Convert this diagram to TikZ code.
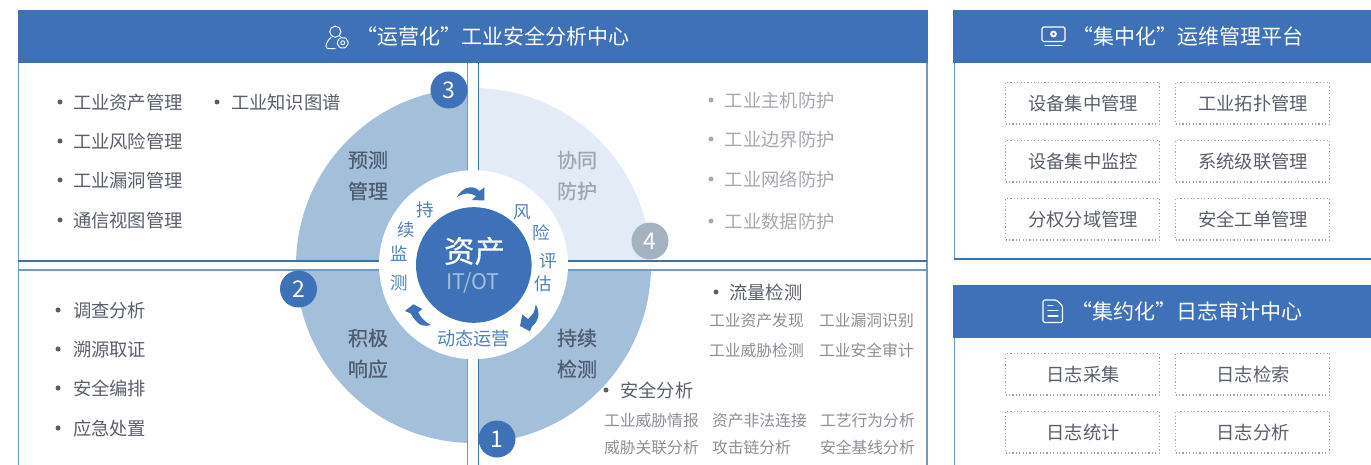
\documentclass[tikz,border=0pt]{standalone}
\usepackage{fontspec}
\setmainfont{Noto Sans CJK SC}
\definecolor{hdr}{HTML}{3E71B7}
\definecolor{edge}{HTML}{3A74AE}
\definecolor{edgel}{HTML}{6C9DC8}
\definecolor{quad}{HTML}{A3BFDA}
\definecolor{quadl}{HTML}{E3ECF6}
\definecolor{txt}{HTML}{5A5E6B}
\definecolor{txts}{HTML}{8B8E97}
\definecolor{txtl}{HTML}{A5A8AF}
\definecolor{lab}{HTML}{4F5B70}
\definecolor{labl}{HTML}{A0A5B0}
\definecolor{ring}{HTML}{4F81BC}
\definecolor{dot}{HTML}{98A3B2}
\definecolor{badgeg}{HTML}{A5B3C0}
\tikzset{
 x=1pt,y=-1pt,inner sep=0pt,outer sep=0pt,
 hdrbar/.style={fill=hdr,draw=none},
 hdrtext/.style={text=white,font=\fontsize{21}{22}\selectfont,anchor=center},
 item/.style={text=txt,font=\fontsize{18.3}{20}\selectfont,anchor=west},
 iteml/.style={text=txtl,font=\fontsize{18.3}{20}\selectfont,anchor=west},
 sub/.style={text=txts,font=\fontsize{15.8}{18}\selectfont,anchor=west},
 bul/.style={circle,fill=#1,minimum size=5pt},
 badge/.style={circle,fill=#1,minimum size=37pt,text=white,font=\fontsize{23}{24}\selectfont},
 quadlab/.style={text=#1,font=\fontsize{20}{22}\selectfont\addfontfeature{FakeBold=0.6},anchor=center},
 ringch/.style={text=ring,font=\fontsize{17.5}{18}\selectfont,anchor=center},
 dbox/.style={draw=dot,line width=1.2pt,dash pattern=on 1.2pt off 2.2pt,minimum width=154pt,minimum height=41.5pt,text=txt,font=\fontsize{18.3}{20}\selectfont,anchor=north west},
 pline/.style={draw=edge,line width=1.1pt},
 plinel/.style={draw=edgel,line width=1.2pt},
 icon/.style={draw=white,line width=1pt,line join=round,line cap=round},
}
\begin{document}
\begin{tikzpicture}
\useasboundingbox (0,0) rectangle (1371,465);
% quadrants
\begin{scope}\clip (0,62) rectangle (467.5,261);
\fill[quad] (473.5,265.5) circle[radius=177.5pt];\end{scope}
\begin{scope}\clip (0,270) rectangle (467.5,465);
\fill[quad] (473.5,265.5) circle[radius=177.5pt];\end{scope}
\begin{scope}\clip (478.5,270) rectangle (927,465);
\fill[quad] (473.5,265.5) circle[radius=177.5pt];\end{scope}
\begin{scope}\clip (478.5,62) rectangle (927,261);
\fill[quadl] (473.5,265.5) circle[radius=177.5pt];\end{scope}
% panel lines
\draw[plinel] (18.7,62) -- (18.7,465);
\draw[plinel] (927,62) -- (927,465);
\draw[pline] (18,261) -- (927,261);
\draw[plinel] (18,270) -- (927,270);
\draw[plinel] (467.8,62) -- (467.8,465);
\draw[pline] (478.3,62) -- (478.3,465);
\draw[plinel] (954.5,62) -- (954.5,259);
\draw[pline] (954,259) -- (1371,259);
\draw[plinel] (954.5,338) -- (954.5,465);
% headers
\fill[hdrbar] (18,10) rectangle (927.5,62);
\fill[hdrbar] (953,10) rectangle (1371,63);
\fill[hdrbar] (953,285) rectangle (1371,338);
\draw[edge,line width=1pt] (18,62.3) -- (927.5,62.3) (953,62.8) -- (1371,62.8) (953,337.5) -- (1371,337.5);
\node[hdrtext] (h1) at (492.5,36.5) {“运营化”工业安全分析中心};
\node[hdrtext] (h2) at (1187.5,36.5) {“集中化”运维管理平台};
\node[hdrtext] (h3) at (1187,311.5) {“集约化”日志审计中心};
% icon: person + gear
\draw[icon] (335.3,31.7) circle[radius=5.6pt];
\draw[icon] (331,37.5) .. controls (328,40) and (325.5,44) .. (326,47) .. controls (326.5,49) and (332,49) .. (335,48.5);
\draw[icon] (340,36.5) -- (341.5,37.5);
\draw[icon,rounded corners=1pt] (339.8,37.8) -- (345.6,37.8) -- (348.5,42.8) -- (345.6,47.8) -- (339.8,47.8) -- (336.9,42.8) -- cycle;
\draw[icon,line width=.9pt] (342.7,42.8) circle[radius=2pt];
% icon: monitor
\draw[icon,line width=1.2pt,rounded corners=1.5pt] (1042,27) rectangle (1065,41.5);
\draw[icon,line width=1.2pt] (1045,45.5) -- (1062,45.5);
\fill[white] (1053.5,34) circle[radius=3.4pt];
\fill[hdr] (1053.5,34) circle[radius=1.3pt];
% icon: document
\draw[icon,line width=1.2pt,rounded corners=1.5pt] (1043,300) -- (1043,322.5) -- (1062.5,322.5) -- (1062.5,306) -- (1056.5,300) -- cycle;
\draw[icon,line width=1.2pt] (1048,310.5) -- (1058,310.5) (1048,316) -- (1058,316) (1048,305.5) -- (1053,305.5);
% white ring and core
\fill[white] (473.5,264.7) circle[radius=94.5pt];
\fill[hdr] (473.8,265) circle[radius=57.8pt];
\node[text=white,font=\fontsize{30.5}{32}\selectfont\addfontfeature{FakeBold=0.4}] (core) at (474.5,251) {资产};
\node[text=quad,font=\fontsize{21.5}{24}\selectfont] (coreb) at (473,282.5) {IT/OT};
% ring text
\node[ringch] (r1) at (425,210) {持};
\node[ringch] (r2) at (406.5,230) {续};
\node[ringch] (r3) at (399,254) {监};
\node[ringch] (r4) at (399,283) {测};
\node[ringch] (r5) at (522,212) {风};
\node[ringch] (r6) at (541,233) {险};
\node[ringch] (r7) at (548,261) {评};
\node[ringch] (r8) at (543,284) {估};
\node[ringch,font=\fontsize{18.2}{18}\selectfont] (r9) at (473.5,338.5) {动态运营};
% ring arrows
\fill[hdr] (456.7,197.3) .. controls (461,189) and (472,183) .. (479.3,191) -- (484.3,187.5) -- (484.3,200.5) -- (472,200) -- (476,196) .. controls (470,192) and (463,193) .. (456.7,197.3) -- cycle;
\fill[hdr] (535.7,304.7) .. controls (535,311) and (533,315) .. (528,319) -- (522.3,314.5) -- (520,326) -- (530,331.3) -- (532,326.5) .. controls (538,322) and (541,313) .. (535.7,304.7) -- cycle;
\fill[hdr] (405,311) -- (413.3,304.3) -- (422.3,309) -- (418.3,312.3) .. controls (421,318) and (425,322) .. (431,325) .. controls (424,327) and (419,325) .. (416.7,321.7) .. controls (414,319) and (412,316) .. (410.7,313.3) -- cycle;
% quadrant labels
\node[quadlab=lab] (q1a) at (368,160) {预测};
\node[quadlab=lab] (q1b) at (368,191) {管理};
\node[quadlab=labl] (q2a) at (577,160) {协同};
\node[quadlab=labl] (q2b) at (577,191) {防护};
\node[quadlab=lab] (q3a) at (368,338) {积极};
\node[quadlab=lab] (q3b) at (368,369) {响应};
\node[quadlab=lab] (q4a) at (577,338) {持续};
\node[quadlab=lab] (q4b) at (577,369) {检测};
% badges
\node[badge=hdr] (b3) at (449,90) {3};
\node[badge=hdr] (b2) at (298.5,289) {2};
\node[badge=badgeg] (b4) at (650,241) {4};
\node[badge=hdr] (b1) at (497,439) {1};
% lists
\foreach \n/\bx/\tx/\y/\t in {a/60/73/102.5/工业资产管理,b/60/73/141.5/工业风险管理,c/60/73/180.5/工业漏洞管理,d/60/73/220.5/通信视图管理,e/217/231/102.5/工业知识图谱,f/58/73/310.5/调查分析,g/58/73/349.5/溯源取证,h/58/73/388.5/安全编排,i/58/73/428.5/应急处置,j/716/729.3/292.5/流量检测,k/606/620.3/390.5/安全分析}{
 \node[bul=txt] (bu\n) at (\bx,\y-0.5) {};
 \node[item] (it\n) at (\tx,\y) {\t};
}
\foreach \n/\y/\t in {a/100.5/工业主机防护,b/139.5/工业边界防护,c/179.5/工业网络防护,d/221.5/工业数据防护}{
 \node[bul=txtl] (bl\n) at (711,\y-0.5) {};
 \node[iteml] (il\n) at (724.8,\y) {\t};
}
\foreach \n/\x/\y/\t in {a/709/320.5/工业资产发现,b/819/320.5/工业漏洞识别,c/709/350.5/工业威胁检测,d/819/350.5/工业安全审计,e/604/420.5/工业威胁情报,f/712/420.5/资产非法连接,g/820/420.5/工艺行为分析,h/604/447.5/威胁关联分析,i/712/447.5/攻击链分析,j/820/447.5/安全基线分析}{
 \node[sub] (su\n) at (\x,\y) {\t};
}
% dashed boxes
\foreach \n/\x/\y/\t in {a/1005.5/82.5/设备集中管理,b/1175.5/82.5/工业拓扑管理,c/1005.5/140.5/设备集中监控,d/1175.5/140.5/系统级联管理,e/1005.5/198.5/分权分域管理,f/1175.5/198.5/安全工单管理,g/1005.5/353.5/日志采集,h/1175.5/353.5/日志检索,i/1005.5/411.5/日志统计,j/1175.5/411.5/日志分析}{
 \node[dbox] (db\n) at (\x,\y) {\hspace{1pt}\raisebox{-2pt}{\t}};
}
\end{tikzpicture}
\end{document}
